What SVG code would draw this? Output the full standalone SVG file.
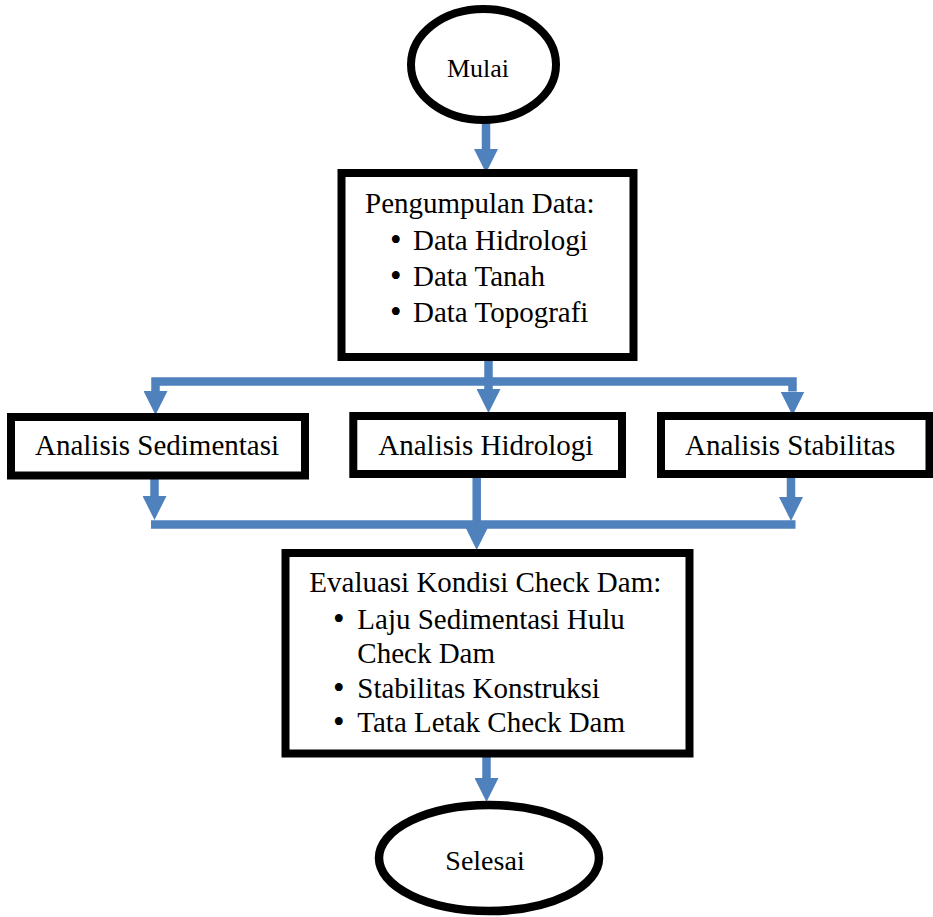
<svg xmlns="http://www.w3.org/2000/svg" width="933" height="917" viewBox="0 0 933 917">
<style>
.box{fill:#fff;stroke:#000;stroke-width:8}
.t{font-family:"Liberation Serif","Times New Roman",serif;font-size:29px;fill:#000}
.b{font-size:33px}
.c{fill:none;stroke:#4F81BD;stroke-width:8.5;stroke-linejoin:miter}
</style>
<defs>
<marker id="ah" markerUnits="userSpaceOnUse" viewBox="0 0 24 24" markerWidth="24" markerHeight="24" refX="0" refY="12" orient="auto">
<path d="M0,0 L24,12 L0,24 z" fill="#4F81BD"/>
</marker>
</defs>
<rect width="933" height="917" fill="#fff"/>
<g id="connectors">
<path class="c" d="M486,121 V149" marker-end="url(#ah)"/>
<path class="c" d="M488.5,360 V389" marker-end="url(#ah)"/>
<path class="c" d="M488.5,381.5 H155.5 V391" marker-end="url(#ah)"/>
<path class="c" d="M488.5,381.5 H792.5 V391.5" marker-end="url(#ah)"/>
<path class="c" d="M154.5,478 V496" marker-end="url(#ah)"/>
<path class="c" d="M791,477 V497" marker-end="url(#ah)"/>
<path class="c" d="M151,524.5 H795.5"/>
<path class="c" d="M476.7,477 V526" marker-end="url(#ah)"/>
<path class="c" d="M486.5,757 V778" marker-end="url(#ah)"/>
</g>
<g id="mulai">
<ellipse cx="483.5" cy="64.5" rx="72.5" ry="55.5" fill="#fff" stroke="#000" stroke-width="8"/>
<text class="t" x="478" y="77" text-anchor="middle" style="font-size:26px">Mulai</text>
</g>
<g id="pengumpulan">
<rect class="box" x="341.5" y="173" width="292" height="184" stroke-width="8.5"/>
<text class="t" x="365" y="213">Pengumpulan Data:</text>
<text class="t" y="250"><tspan class="b" x="390" dy="1">•</tspan><tspan x="413" dy="-1">Data Hidrologi</tspan></text>
<text class="t" y="286"><tspan class="b" x="390" dy="1">•</tspan><tspan x="413" dy="-1">Data Tanah</tspan></text>
<text class="t" y="322"><tspan class="b" x="390" dy="1">•</tspan><tspan x="413" dy="-1">Data Topografi</tspan></text>
</g>
<g id="sedimentasi">
<rect class="box" x="11" y="417" width="294" height="58.5"/>
<text class="t" x="35" y="455">Analisis Sedimentasi</text>
</g>
<g id="hidrologi">
<rect class="box" x="353.3" y="416" width="268.7" height="58"/>
<text class="t" x="378.3" y="455">Analisis Hidrologi</text>
</g>
<g id="stabilitas">
<rect class="box" x="661" y="416" width="268.5" height="58"/>
<text class="t" x="685" y="455">Analisis Stabilitas</text>
</g>
<g id="evaluasi">
<rect class="box" x="285.5" y="553" width="404" height="200.5"/>
<text class="t" x="309.3" y="592">Evaluasi Kondisi Check Dam:</text>
<text class="t" y="628.5"><tspan class="b" x="333" dy="1">•</tspan><tspan x="357.3" dy="-1">Laju Sedimentasi Hulu</tspan></text>
<text class="t" x="357.3" y="663">Check Dam</text>
<text class="t" y="697.5"><tspan class="b" x="333" dy="1">•</tspan><tspan x="357.3" dy="-1">Stabilitas Konstruksi</tspan></text>
<text class="t" y="732"><tspan class="b" x="333" dy="1">•</tspan><tspan x="357.3" dy="-1">Tata Letak Check Dam</tspan></text>
</g>
<g id="selesai">
<ellipse cx="489" cy="858" rx="110" ry="53" fill="#fff" stroke="#000" stroke-width="8.5"/>
<text class="t" x="485" y="870" text-anchor="middle" style="font-size:28px">Selesai</text>
</g>
</svg>
